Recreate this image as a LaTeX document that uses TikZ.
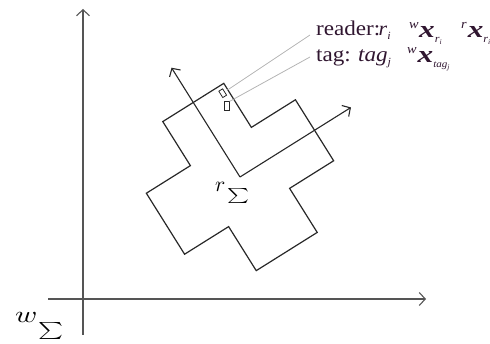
\RequirePackage{fix-cm}
\documentclass[tikz,border=0pt]{standalone}
\usepackage{graphicx}
\usepackage{fontspec}
\setmainfont{Liberation Serif}
\newfontfamily\serifw{Liberation Serif}[FakeStretch=1.1]
\newfontfamily\serifxx{Liberation Serif}[FakeStretch=1.3]
\usetikzlibrary{arrows.meta}
\definecolor{txtpurple}{RGB}{48,22,48}
\definecolor{axgray}{RGB}{85,85,85}
\definecolor{shapegray}{RGB}{40,40,40}
\definecolor{leadgray}{RGB}{180,180,180}
\newcommand\sz[1]{\fontsize{#1}{#1}\selectfont}
\begin{document}
\begin{tikzpicture}[x=1pt,y=-1pt,
  mainaxis/.style={draw=axgray,line width=1.1pt,-{Straight Barb[length=6pt,width=13pt,line width=1.1pt]}},
  localaxis/.style={draw=shapegray,line width=1.1pt,-{Straight Barb[length=6pt,width=13pt,line width=1.1pt]}},
  crossline/.style={draw=shapegray,line width=1.2pt,line join=miter},
  tinybox/.style={draw=shapegray,line width=0.8pt,inner sep=0pt,minimum width=4.5pt,minimum height=7.5pt},
  leader/.style={draw=leadgray,line width=0.8pt},
  lbl/.style={inner sep=0pt,anchor=base west,text=txtpurple},
  mlbl/.style={inner sep=0pt,anchor=base west,text=black}]
\useasboundingbox (0,0) rectangle (490,344);
% world axes
\coordinate (wo) at (83,299);
\coordinate (xleft) at (48,299);
\coordinate (xtip) at (426,299);
\coordinate (ybot) at (83,335);
\coordinate (ytip) at (83,9);
\draw[mainaxis] (xleft) -- (xtip);
\draw[mainaxis] (ybot) -- (ytip);
% local frame and cross
\begin{scope}[shift={(240,177)},x={(0.847pt,0.531pt)},y={(-0.531pt,0.847pt)}]
  \coordinate (lo) at (0,0);
  \coordinate (lx) at (131,0);
  \coordinate (ly) at (0,129);
  \draw[crossline] (36,88) -- (36,36) -- (88,36) -- (88,-36) -- (36,-36) -- (36,-88)
     -- (-36,-88) -- (-36,-36) -- (-88,-36) -- (-88,36) -- (-36,36) -- (-36,88) -- cycle;
  \draw[localaxis] (lo) -- (lx);
  \draw[localaxis] (lo) -- (ly);
\end{scope}
% reader and tag boxes
\node[tinybox,rotate=32] (rdr) at (222.7,93.2) {};
\node[tinybox,minimum width=5pt,minimum height=9pt] (tg) at (226.7,106.3) {};
\coordinate (l1e) at (310,35);
\coordinate (l2e) at (310,57);
\draw[leader,shorten <=3pt] (rdr) -- (l1e);
\draw[leader] (tg.north east) -- (l2e);
% texts
\node[lbl] (rlab) at (316,36) {\serifw\sz{21}reader:};
\node[lbl] (rsym) at (378.5,36) {\serifw\sz{20}\itshape r\raisebox{-4pt}{\sz{11}i}};
\node[lbl] (rwx) at (409,37.5) {\serifw\itshape\raisebox{9pt}{\sz{13}w}\hspace{0.5pt}{\serifxx\bfseries\sz{24}x}\raisebox{-5.5pt}{\sz{11}r\raisebox{-2pt}{\sz{7}i}}};
\node[lbl] (rrx) at (461,37.5) {\serifw\itshape\raisebox{9pt}{\sz{13}r}\hspace{1pt}{\serifxx\bfseries\sz{24}x}\raisebox{-5.5pt}{\sz{11}r\raisebox{-2pt}{\sz{7}i}}};
\node[lbl] (tlab) at (316,61.5) {\serifw\sz{21}tag:};
\node[lbl] (tsym) at (358,61.5) {\serifw\sz{21}\itshape tag\raisebox{-4pt}{\sz{11}j}};
\node[lbl] (twx) at (407,62.5) {\serifw\itshape\raisebox{9pt}{\sz{13}w}\hspace{1pt}{\serifxx\bfseries\sz{24}x}\raisebox{-5.5pt}{\sz{10}tag\raisebox{-2pt}{\sz{7}j}}};
% frame labels
\node[mlbl] (rsig) at (215,192) {\sz{10}\scalebox{2.15}{$r$}\hspace{2pt}\raisebox{-7.3pt}{\scalebox{2.08}[1.5]{$\sum$}}};
\node[mlbl] (wsig) at (15,323) {\sz{10}\scalebox{3.0}[2.33]{$w$}\hspace{1pt}\raisebox{-12.7pt}{\scalebox{2.37}[1.7]{$\sum$}}};
\end{tikzpicture}
\end{document}
